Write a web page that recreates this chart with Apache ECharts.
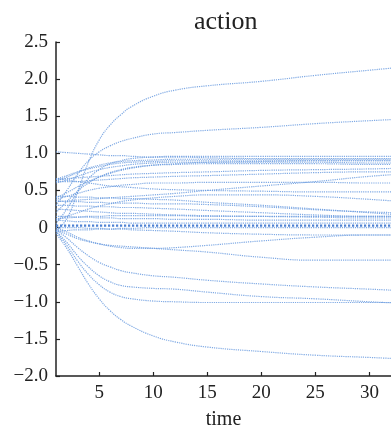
<!DOCTYPE html>
<html>
<head>
<meta charset="utf-8">
<script src="https://cdn.jsdelivr.net/npm/echarts@6/dist/echarts.min.js"></script>
<style>
html,body{margin:0;padding:0;background:#fff;}
#chart{width:391px;height:429px;}
</style>
</head>
<body>
<div id="chart"></div>
<script>
// sample times (x values) shared by all trajectories
var times = [1, 2, 3, 4, 5, 6, 7, 8, 10, 12, 15, 20, 25, 30, 33];

// trajectories (values at the sample times)
var top1 = [-0.05, 0.12, 0.48, 0.88, 1.18, 1.38, 1.52, 1.63, 1.77, 1.85, 1.91, 1.97, 2.05, 2.12, 2.16];
var top2 = [0.3, 0.5, 0.72, 0.9, 1.02, 1.1, 1.16, 1.2, 1.26, 1.28, 1.31, 1.35, 1.4, 1.44, 1.46];
var m1  = [1.02, 1.01, 1.0, 0.99, 0.98, 0.97, 0.97, 0.96, 0.95, 0.95, 0.94, 0.93, 0.93, 0.93, 0.93];
var m2  = [0.65, 0.7, 0.75, 0.79, 0.82, 0.85, 0.87, 0.88, 0.89, 0.9, 0.9, 0.9, 0.9, 0.9, 0.9];
var m3  = [0.6, 0.64, 0.69, 0.74, 0.78, 0.81, 0.83, 0.85, 0.87, 0.88, 0.88, 0.88, 0.88, 0.87, 0.87];
var m4  = [0.05, 0.25, 0.48, 0.66, 0.78, 0.86, 0.9, 0.93, 0.95, 0.96, 0.96, 0.96, 0.96, 0.96, 0.96];
var m5  = [0.2, 0.35, 0.49, 0.6, 0.68, 0.74, 0.78, 0.81, 0.84, 0.85, 0.86, 0.86, 0.86, 0.85, 0.85];
var m6  = [0.4, 0.47, 0.55, 0.62, 0.68, 0.73, 0.77, 0.8, 0.84, 0.86, 0.88, 0.89, 0.9, 0.9, 0.9];
var m7  = [0.65, 0.66, 0.67, 0.68, 0.69, 0.7, 0.71, 0.72, 0.73, 0.74, 0.75, 0.77, 0.78, 0.79, 0.8];
var m8  = [0.62, 0.62, 0.62, 0.63, 0.64, 0.65, 0.66, 0.67, 0.68, 0.69, 0.7, 0.72, 0.74, 0.75, 0.75];
var m9  = [0.35, 0.36, 0.37, 0.38, 0.39, 0.4, 0.41, 0.42, 0.44, 0.46, 0.5, 0.56, 0.62, 0.69, 0.72];
var m10 = [0.66, 0.64, 0.62, 0.6, 0.58, 0.56, 0.55, 0.54, 0.52, 0.51, 0.5, 0.49, 0.48, 0.48, 0.48];
var m11 = [0.38, 0.42, 0.46, 0.5, 0.53, 0.55, 0.57, 0.58, 0.6, 0.6, 0.61, 0.61, 0.61, 0.6, 0.6];
var m12 = [0.42, 0.42, 0.41, 0.41, 0.4, 0.4, 0.39, 0.39, 0.38, 0.37, 0.34, 0.3, 0.25, 0.2, 0.17];
var m13 = [0.3, 0.3, 0.29, 0.29, 0.28, 0.28, 0.27, 0.27, 0.26, 0.25, 0.23, 0.2, 0.17, 0.15, 0.15];
var m14 = [0.25, 0.24, 0.23, 0.22, 0.21, 0.2, 0.19, 0.19, 0.18, 0.17, 0.16, 0.15, 0.14, 0.13, 0.13];
var m15 = [0.15, 0.15, 0.14, 0.14, 0.13, 0.13, 0.12, 0.12, 0.12, 0.11, 0.11, 0.1, 0.1, 0.1, 0.1];
var m16 = [0.36, 0.35, 0.35, 0.34, 0.34, 0.33, 0.33, 0.33, 0.32, 0.32, 0.31, 0.28, 0.24, 0.21, 0.2];
var m17 = [0.1, 0.15, 0.2, 0.25, 0.29, 0.32, 0.35, 0.37, 0.4, 0.42, 0.44, 0.44, 0.42, 0.38, 0.35];
var m18 = [0.1, 0.09, 0.08, 0.08, 0.07, 0.07, 0.07, 0.06, 0.06, 0.06, 0.06, 0.06, 0.06, 0.06, 0.06];
var m19 = [-0.05, -0.04, -0.03, -0.03, -0.02, -0.02, -0.01, -0.01, 0, 0, 0, 0, 0, 0, 0];
var m20 = [0.62, 0.68, 0.74, 0.8, 0.84, 0.87, 0.89, 0.9, 0.91, 0.92, 0.92, 0.92, 0.92, 0.92, 0.92];
var m21 = [0.12, 0.13, 0.14, 0.15, 0.15, 0.16, 0.16, 0.16, 0.16, 0.16, 0.15, 0.15, 0.15, 0.15, 0.15];
var zeroLine = [0.025, 0.025, 0.025, 0.025, 0.025, 0.025, 0.025, 0.025, 0.025, 0.025, 0.025, 0.025, 0.025, 0.025, 0.025];
var lowA = [0, -0.06, -0.13, -0.18, -0.22, -0.25, -0.27, -0.28, -0.28, -0.27, -0.24, -0.18, -0.13, -0.1, -0.1];
var lowG = [0, 0, 0, -0.01, -0.01, -0.02, -0.02, -0.03, -0.04, -0.05, -0.07, -0.09, -0.1, -0.1, -0.1];
var lowB = [-0.02, -0.09, -0.15, -0.19, -0.22, -0.24, -0.25, -0.26, -0.28, -0.3, -0.33, -0.4, -0.44, -0.44, -0.44];
var lowC = [-0.03, -0.14, -0.27, -0.38, -0.47, -0.53, -0.58, -0.61, -0.65, -0.67, -0.71, -0.76, -0.8, -0.83, -0.85];
var lowD = [-0.05, -0.2, -0.38, -0.53, -0.65, -0.73, -0.78, -0.8, -0.82, -0.83, -0.87, -0.93, -0.96, -1.0, -1.02];
var lowE = [-0.05, -0.24, -0.45, -0.63, -0.77, -0.87, -0.93, -0.96, -0.99, -1.0, -1.01, -1.01, -1.01, -1.01, -1.01];
var lowF = [-0.08, -0.28, -0.52, -0.76, -0.96, -1.12, -1.24, -1.33, -1.46, -1.54, -1.61, -1.67, -1.72, -1.75, -1.77];

var thinSeries = [top1, top2, m1, m2, m3, m4, m5, m6, m7, m8, m9, m10, m11, m12, m13, m14, m15, m16, m17, m18, m19, m20, m21,
                  lowA, lowG, lowB, lowC, lowD, lowE, lowF];

var xTickValues = [5, 10, 15, 20, 25, 30];
var yTickValues = [-2, -1.5, -1, -0.5, 0, 0.5, 1, 1.5, 2, 2.5];
var yTickLabels = ['\u22122.0', '\u22121.5', '\u22121.0', '\u22120.5', '0', '0.5', '1.0', '1.5', '2.0', '2.5'];

function pairs(vals) {
  return times.map(function (t, i) { return [t, vals[i]]; });
}

var series = thinSeries.map(function (vals) {
  return {
    type: 'line', data: pairs(vals), smooth: 0.5, showSymbol: false, symbol: 'none',
    lineStyle: { color: '#6a9bdf', width: 1.2, type: [1.2, 1], opacity: 0.85 },
    silent: true
  };
});
series.push({
  type: 'line', data: pairs(zeroLine), symbol: 'none',
  lineStyle: { color: '#4f82d3', width: 2.2, type: [2.2, 1.8] }, silent: true, z: 3
});

var serif = '"Liberation Serif", "DejaVu Serif", serif';
var chart = echarts.init(document.getElementById('chart'), null, { renderer: 'canvas' });
chart.setOption({
  animation: false,
  backgroundColor: '#fff',
  title: {
    text: 'action', left: 189, top: 4,
    textStyle: { fontFamily: serif, fontSize: 26, fontWeight: 'normal', color: '#222' }
  },
  grid: { left: 56, right: 0, top: 42, bottom: 53, containLabel: false, outerBoundsMode: 'none' },
  xAxis: {
    type: 'value', min: 1, max: 32,
    name: 'time', nameLocation: 'middle', nameGap: 34,
    nameTextStyle: { fontFamily: serif, fontSize: 20, color: '#222' },
    axisLine: { show: true, onZero: false, lineStyle: { color: '#222', width: 1.5 } },
    axisTick: { show: true, inside: true, length: 4, customValues: xTickValues, lineStyle: { color: '#222', width: 1.2 } },
    axisLabel: { customValues: xTickValues, margin: 8, fontFamily: serif, fontSize: 19, color: '#222' },
    splitLine: { show: false }
  },
  yAxis: {
    type: 'value', min: -2, max: 2.5, interval: 0.5,
    axisLine: { show: true, onZero: false, lineStyle: { color: '#222', width: 1.5 } },
    axisTick: { show: true, inside: true, length: 4, lineStyle: { color: '#222', width: 1.2 } },
    axisLabel: {
      margin: 8, fontFamily: serif, fontSize: 19, color: '#222',
      formatter: function (v) {
        for (var i = 0; i < yTickValues.length; i++) {
          if (Math.abs(yTickValues[i] - v) < 1e-6) return yTickLabels[i];
        }
        return '';
      }
    },
    splitLine: { show: false }
  },
  series: series
});
</script>
</body>
</html>
